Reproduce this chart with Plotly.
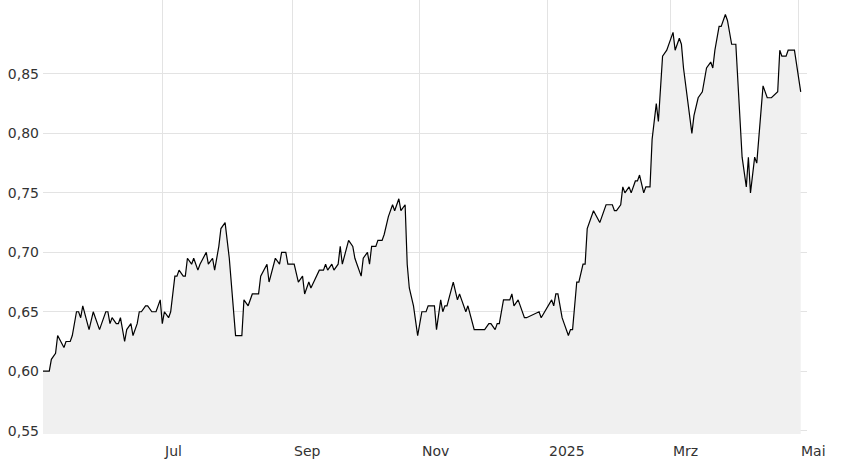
import plotly.graph_objects as go

dates = [
    "2024-05-05", "2024-05-08", "2024-05-09", "2024-05-11", "2024-05-12", "2024-05-15",
    "2024-05-16", "2024-05-18", "2024-05-19", "2024-05-21", "2024-05-22", "2024-05-23",
    "2024-05-24", "2024-05-26", "2024-05-27", "2024-05-29", "2024-05-30", "2024-06-01",
    "2024-06-02", "2024-06-04", "2024-06-05", "2024-06-06", "2024-06-07", "2024-06-09",
    "2024-06-10", "2024-06-11", "2024-06-13", "2024-06-14", "2024-06-16", "2024-06-17",
    "2024-06-19", "2024-06-20", "2024-06-21", "2024-06-23", "2024-06-24", "2024-06-26",
    "2024-06-28", "2024-06-30", "2024-07-01", "2024-07-02", "2024-07-04", "2024-07-05",
    "2024-07-07", "2024-07-08", "2024-07-09", "2024-07-11", "2024-07-12", "2024-07-13",
    "2024-07-15", "2024-07-16", "2024-07-18", "2024-07-19", "2024-07-22", "2024-07-23",
    "2024-07-25", "2024-07-26", "2024-07-28", "2024-07-29", "2024-07-31", "2024-08-02",
    "2024-08-05", "2024-08-08", "2024-08-09", "2024-08-11", "2024-08-13", "2024-08-16",
    "2024-08-17", "2024-08-20", "2024-08-21", "2024-08-24", "2024-08-26", "2024-08-27",
    "2024-08-29", "2024-08-30", "2024-09-02", "2024-09-04", "2024-09-06", "2024-09-07",
    "2024-09-09", "2024-09-10", "2024-09-14", "2024-09-16", "2024-09-17", "2024-09-18",
    "2024-09-20", "2024-09-21", "2024-09-23", "2024-09-24", "2024-09-25", "2024-09-27",
    "2024-09-28", "2024-09-30", "2024-10-01", "2024-10-02", "2024-10-04", "2024-10-05",
    "2024-10-07", "2024-10-08", "2024-10-09", "2024-10-11", "2024-10-12", "2024-10-14",
    "2024-10-15", "2024-10-17", "2024-10-18", "2024-10-19", "2024-10-20", "2024-10-22",
    "2024-10-23", "2024-10-25", "2024-10-26", "2024-10-27", "2024-10-29", "2024-10-30",
    "2024-10-31", "2024-11-02", "2024-11-04", "2024-11-05", "2024-11-08", "2024-11-09",
    "2024-11-11", "2024-11-12", "2024-11-13", "2024-11-14", "2024-11-16", "2024-11-17",
    "2024-11-19", "2024-11-20", "2024-11-21", "2024-11-23", "2024-11-24", "2024-11-26",
    "2024-11-27", "2024-12-02", "2024-12-04", "2024-12-05", "2024-12-07", "2024-12-08",
    "2024-12-09", "2024-12-11", "2024-12-14", "2024-12-15", "2024-12-16", "2024-12-18",
    "2024-12-19", "2024-12-21", "2024-12-22", "2024-12-28", "2024-12-29", "2025-01-03",
    "2025-01-04", "2025-01-05", "2025-01-06", "2025-01-08", "2025-01-09", "2025-01-11",
    "2025-01-12", "2025-01-13", "2025-01-15", "2025-01-16", "2025-01-18", "2025-01-19",
    "2025-01-20", "2025-01-21", "2025-01-23", "2025-01-26", "2025-01-27", "2025-01-29",
    "2025-02-01", "2025-02-02", "2025-02-03", "2025-02-05", "2025-02-06", "2025-02-07",
    "2025-02-09", "2025-02-10", "2025-02-12", "2025-02-13", "2025-02-14", "2025-02-16",
    "2025-02-17", "2025-02-19", "2025-02-20", "2025-02-22", "2025-02-23", "2025-02-25",
    "2025-02-27", "2025-02-28", "2025-03-02", "2025-03-03", "2025-03-05", "2025-03-06",
    "2025-03-07", "2025-03-11", "2025-03-12", "2025-03-14", "2025-03-16", "2025-03-18",
    "2025-03-20", "2025-03-21", "2025-03-22", "2025-03-24", "2025-03-25", "2025-03-27",
    "2025-03-28", "2025-03-30", "2025-04-01", "2025-04-04", "2025-04-06", "2025-04-07",
    "2025-04-08", "2025-04-10", "2025-04-11", "2025-04-14", "2025-04-16", "2025-04-18",
    "2025-04-21", "2025-04-22", "2025-04-23", "2025-04-25", "2025-04-26", "2025-04-29",
    "2025-05-02",
]

prices = [
    0.600, 0.600, 0.610, 0.615, 0.630, 0.620,
    0.625, 0.625, 0.630, 0.650, 0.650, 0.645,
    0.655, 0.640, 0.635, 0.650, 0.645, 0.635,
    0.640, 0.650, 0.650, 0.640, 0.645, 0.640,
    0.640, 0.645, 0.625, 0.635, 0.640, 0.630,
    0.640, 0.650, 0.650, 0.655, 0.655, 0.650,
    0.650, 0.660, 0.640, 0.650, 0.645, 0.650,
    0.680, 0.680, 0.685, 0.680, 0.680, 0.695,
    0.690, 0.695, 0.685, 0.690, 0.700, 0.690,
    0.695, 0.685, 0.705, 0.720, 0.725, 0.695,
    0.630, 0.630, 0.660, 0.655, 0.665, 0.665,
    0.680, 0.690, 0.675, 0.695, 0.690, 0.700,
    0.700, 0.690, 0.690, 0.675, 0.680, 0.665,
    0.675, 0.670, 0.685, 0.685, 0.690, 0.685,
    0.690, 0.685, 0.690, 0.705, 0.690, 0.705,
    0.710, 0.705, 0.695, 0.690, 0.680, 0.695,
    0.700, 0.690, 0.705, 0.705, 0.710, 0.710,
    0.715, 0.730, 0.735, 0.740, 0.735, 0.745,
    0.735, 0.740, 0.690, 0.670, 0.655, 0.640,
    0.630, 0.650, 0.650, 0.655, 0.655, 0.635,
    0.660, 0.650, 0.655, 0.655, 0.670, 0.675,
    0.660, 0.665, 0.660, 0.650, 0.655, 0.640,
    0.635, 0.635, 0.640, 0.640, 0.635, 0.640,
    0.640, 0.660, 0.660, 0.665, 0.655, 0.660,
    0.655, 0.645, 0.645, 0.650, 0.645, 0.660,
    0.655, 0.665, 0.665, 0.645, 0.640, 0.630,
    0.635, 0.635, 0.675, 0.675, 0.690, 0.690,
    0.720, 0.725, 0.735, 0.725, 0.730, 0.740,
    0.740, 0.735, 0.735, 0.740, 0.755, 0.750,
    0.755, 0.750, 0.760, 0.760, 0.765, 0.750,
    0.755, 0.755, 0.795, 0.825, 0.810, 0.865,
    0.870, 0.875, 0.885, 0.870, 0.880, 0.875,
    0.855, 0.800, 0.815, 0.830, 0.835, 0.855,
    0.860, 0.855, 0.870, 0.890, 0.890, 0.900,
    0.895, 0.875, 0.875, 0.780, 0.755, 0.780,
    0.750, 0.780, 0.775, 0.840, 0.830, 0.830,
    0.835, 0.870, 0.865, 0.865, 0.870, 0.870,
    0.835,
]

tick_dates = ["2024-07-01", "2024-09-01", "2024-11-01", "2025-01-01", "2025-03-01", "2025-05-01"]
tick_labels = ["Jul", "Sep", "Nov", "2025", "Mrz", "Mai"]
y_ticks = [0.55, 0.60, 0.65, 0.70, 0.75, 0.80, 0.85]

FONT = "DejaVu Sans"
TEXT = "#333333"
GRID = "#e3e3e3"

fig = go.Figure()
fig.add_trace(go.Scatter(
    x=dates, y=prices, mode="lines",
    line=dict(color="#000000", width=1.2),
    fill="tozeroy", fillcolor="#f0f0f0",
    hoverinfo="skip", showlegend=False,
))

for d, lab in zip(tick_dates, tick_labels):
    fig.add_annotation(
        x=d, xref="x", y=0, yref="paper", text=lab, showarrow=False,
        xanchor="left", yanchor="top", yshift=-7,
        font=dict(family=FONT, size=14, color=TEXT),
    )

fig.update_layout(
    width=848, height=460,
    margin=dict(l=43, r=41, t=0, b=26),
    paper_bgcolor="white", plot_bgcolor="white",
    separators=",.",
    showlegend=False,
    hovermode=False,
    xaxis=dict(
        type="date", range=["2024-05-05", "2025-05-05"],
        tickvals=tick_dates, showticklabels=False,
        showgrid=True, gridcolor=GRID, gridwidth=1,
        zeroline=False, showline=False, ticks="",
    ),
    yaxis=dict(
        range=[0.5472, 0.9122],
        tickvals=y_ticks, tickformat=".2f",
        showgrid=True, gridcolor=GRID, gridwidth=1,
        zeroline=False, showline=False, ticks="",
        ticklabelstandoff=3,
        tickfont=dict(family=FONT, size=14, color=TEXT),
    ),
)

fig.write_html(
    "out.html",
    config={"displayModeBar": False},
    post_script="document.body.style.margin='0';document.body.style.overflow='hidden';",
)
